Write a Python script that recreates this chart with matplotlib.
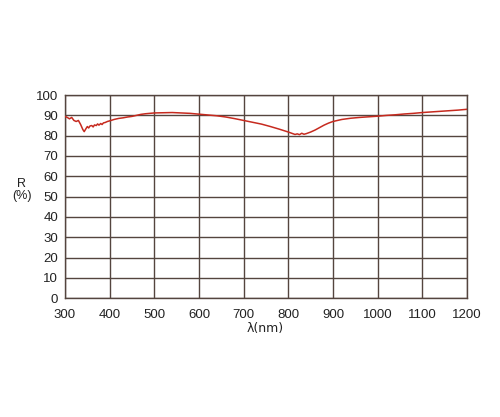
import matplotlib
matplotlib.use("Agg")
import matplotlib.pyplot as plt

wavelength = [300, 305, 310, 315, 320, 325, 330, 335, 340, 343, 347, 350, 353, 356, 360, 363, 366, 370,
              373, 376, 380, 383, 386, 390, 395, 400, 410, 420, 430, 440, 450, 460, 470, 480, 490, 500,
              520, 540, 560, 580, 600, 620, 640, 660, 680, 700, 720, 740, 760, 780, 800, 810, 815, 820,
              825, 830, 835, 840, 850, 860, 870, 880, 890, 900, 920, 940, 960, 980, 1000, 1020, 1040,
              1060, 1080, 1100, 1120, 1140, 1160, 1180, 1200]
reflectance = [89.5, 89.0, 88.3, 89.0, 87.5, 87.0, 87.5, 85.5, 83.0, 82.0, 83.5, 84.5, 83.8, 84.8, 85.0, 84.3, 85.3, 85.0,
               85.8, 85.2, 86.0, 85.5, 86.3, 86.5, 87.0, 87.3, 88.0, 88.5, 88.8, 89.2, 89.5, 90.0, 90.5, 90.8, 91.0, 91.2,
               91.3, 91.4, 91.2, 91.0, 90.6, 90.2, 89.8, 89.2, 88.4, 87.5, 86.6, 85.7, 84.5, 83.2, 81.8, 81.0, 80.6, 80.9,
               80.5, 81.2, 80.7, 81.0, 81.8, 82.8, 84.0, 85.2, 86.2, 87.0, 88.0, 88.6, 89.0, 89.3, 89.6, 90.0, 90.3,
               90.7, 91.0, 91.4, 91.7, 92.0, 92.3, 92.6, 93.0]

x_ticks = [300, 400, 500, 600, 700, 800, 900, 1000, 1100, 1200]
y_ticks = [0, 10, 20, 30, 40, 50, 60, 70, 80, 90, 100]

plt.rcParams['font.family'] = ['Liberation Sans', 'DejaVu Sans']
fig = plt.figure(figsize=(5.0, 4.17), dpi=100)
ax = fig.add_axes([0.13, 0.285, 0.804, 0.487])
grid_color = "#54453f"
ax.plot(wavelength, reflectance, color="#c62a1f", linewidth=1.1, zorder=3)
ax.set_xlim(300, 1200)
ax.set_ylim(0, 100)
ax.set_xticks(x_ticks)
ax.set_yticks(y_ticks)
ax.grid(True, color=grid_color, linewidth=1.0)
for s in ax.spines.values():
    s.set_color(grid_color)
    s.set_linewidth(1.0)
ax.tick_params(axis='x', length=0, labelsize=9.5, pad=8, colors="#222222")
ax.tick_params(axis='y', length=0, labelsize=9.5, pad=5, colors="#222222")
fig.text(0.044, 0.545, "R\n(%)", ha="center", va="center", fontsize=9, color="#222222", linespacing=1.0)
fig.text(0.53, 0.213, "λ(nm)", ha="center", va="center", fontsize=9, color="#222222",
         family=['DejaVu Sans'])
fig.savefig("out.png", dpi=100)
